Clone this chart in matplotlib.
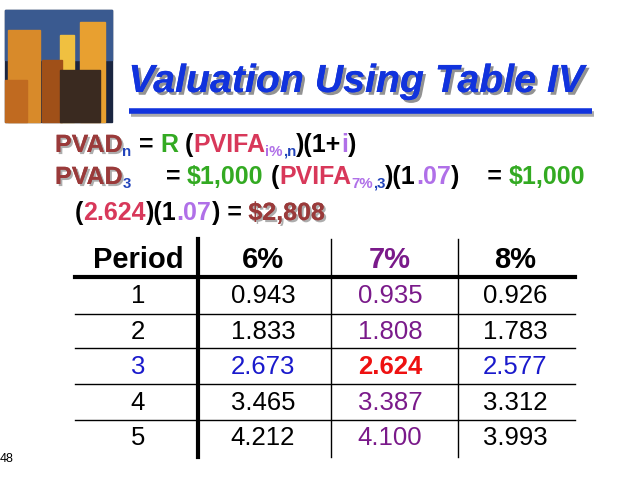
import matplotlib
matplotlib.use("Agg")
import matplotlib.pyplot as plt
import matplotlib.patches as mp
import matplotlib.patheffects as pe

periods = ["1", "2", "3", "4", "5"]
headers = ["Period", "6%", "7%", "8%"]
rate6 = ["0.943", "1.833", "2.673", "3.465", "4.212"]
rate7 = ["0.935", "1.808", "2.624", "3.387", "4.100"]
rate8 = ["0.926", "1.783", "2.577", "3.312", "3.993"]

plt.rcParams['font.family'] = ['Liberation Sans', 'DejaVu Sans']

fig = plt.figure(figsize=(6.38, 4.79), dpi=100)
ax = fig.add_axes([0, 0, 1, 1])
ax.set_xlim(0, 638); ax.set_ylim(479, 0); ax.axis('off')

# picture
ax.add_patch(mp.Rectangle((5, 10), 107, 112, color='#1a2540', zorder=1))
ax.add_patch(mp.Rectangle((5, 10), 107, 50, color='#3a5a90', zorder=1))
for (x, y, w, h, c) in [(8, 30, 32, 92, '#d88a2a'), (60, 35, 14, 87, '#f0c040'),
                         (80, 22, 25, 100, '#e8a030'), (42, 60, 20, 62, '#a05018'),
                         (60, 70, 40, 52, '#3a2a20'), (5, 80, 22, 42, '#c06a20')]:
    ax.add_patch(mp.Rectangle((x, y), w, h, color=c, zorder=2))

# title
ax.text(356, 92, "Valuation Using Table IV", fontsize=28.3, fontweight='bold', style='italic',
        color='#1133dd', ha='center', va='baseline',
        path_effects=[pe.withSimplePatchShadow(offset=(2, -2), shadow_rgbFace='#777777', alpha=0.8), pe.Normal()])
ax.plot([131, 594], [114, 114], color='#aaaaaa', lw=4, solid_capstyle='butt')
ax.plot([129, 592], [111, 111], color='#1133dd', lw=4, solid_capstyle='butt')

BR = '#9a3a3a'; GR = '#33aa22'; CR = '#d8385a'; VI = '#b070e8'; BL = '#2244bb'; K = 'black'
shadow = [pe.withSimplePatchShadow(offset=(1.5, -1.5), shadow_rgbFace='#999999', alpha=0.8), pe.Normal()]
r = fig.canvas.get_renderer()

def seq(x, y, pieces, fs=18):
    for txt, col, kind in pieces:
        size = fs * 0.6 if kind == 'sub' else fs
        yy = y + 4 if kind == 'sub' else y
        t = ax.text(x, yy, txt, fontsize=size, fontweight='bold', color=col, va='baseline', ha='left',
                    path_effects=shadow if col == BR else None)
        bb = t.get_window_extent(renderer=r)
        x += bb.width * 638 / fig.bbox.width

seq(55, 152, [("PVAD", BR, ''), ("n", BL, 'sub'), (" = ", K, ''), ("R", GR, ''), (" (", K, ''),
              ("PVIFA", CR, ''), ("i%", VI, 'sub'), (",n", BL, 'sub'), (")(1+", K, ''), ("i", VI, ''), (")", K, '')])
seq(55, 184, [("PVAD", BR, ''), ("3", BL, 'sub'), ("     = ", K, ''), ("$1,000", GR, ''), (" (", K, ''),
              ("PVIFA", CR, ''), ("7%", VI, 'sub'), (",3", BL, 'sub'), (")(1", K, ''), (".07", VI, ''),
              (")    = ", K, ''), ("$1,000", GR, '')])
seq(75, 220, [("(", K, ''), ("2.624", CR, ''), (")(1", K, ''), (".07", VI, ''), (") = ", K, ''), ("$2,808", BR, '')])

# table
cols_x = [138, 263, 390, 515]
PU = '#7a1a8a'
ax.plot([75, 575], [277, 277], color='black', lw=3)
for yl in [314, 348, 384, 420]:
    ax.plot([75, 575], [yl, yl], color='black', lw=1)
ax.plot([198, 198], [239, 457], color='black', lw=3)
for xv in [331, 458]:
    ax.plot([xv, xv], [239, 457], color='black', lw=1)
for i, h in enumerate(headers):
    ax.text(cols_x[i], 268, h, fontsize=21, fontweight='bold', color=PU if i == 2 else 'black',
            ha='center', va='baseline')
body_kw = dict(ha='center', va='baseline', fontsize=18.5)
for j in range(len(periods)):
    y = 303 + j * 35.6
    hi = (periods[j] == "3")
    c_norm = '#1a1acc' if hi else 'black'
    ax.text(cols_x[0], y, periods[j], color=c_norm, **body_kw)
    ax.text(cols_x[1], y, rate6[j], color=c_norm, **body_kw)
    ax.text(cols_x[2], y, rate7[j], color='#ee1111' if hi else PU,
            fontweight='bold' if hi else 'normal', **body_kw)
    ax.text(cols_x[3], y, rate8[j], color=c_norm, **body_kw)

ax.text(0, 459, "48", fontsize=9, ha='left', va='center')
fig.savefig("out.png", dpi=100)
